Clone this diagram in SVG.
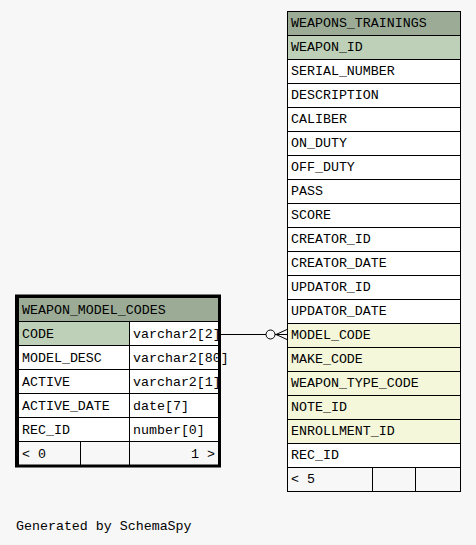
<svg xmlns="http://www.w3.org/2000/svg" width="476" height="545" viewBox="0 0 476 545">
<style>
text{font-family:"Liberation Mono","DejaVu Sans Mono",monospace;font-size:13.3px;fill:#000}
.c{stroke:#000;stroke-width:1}
.h{fill:#9bab96}
.pk{fill:#bed1b8}
.fk{fill:#f4f7da}
.w{fill:#ffffff}
.f{fill:#f7f7f7}
</style>
<rect x="0" y="0" width="476" height="545" fill="#f7f7f7"/>
<g id="connectors" fill="none" stroke="#000" stroke-width="1">
<line x1="219" y1="334.5" x2="266" y2="334.5"/>
<circle cx="270.5" cy="334.5" r="4.5"/>
<line x1="275" y1="334.5" x2="287" y2="334.5"/>
<line x1="276" y1="334.5" x2="287" y2="329.5"/>
<line x1="276" y1="334.5" x2="287" y2="339.5"/>
</g>
<g id="WEAPONS_TRAININGS">
<rect class="c h" x="287.5" y="11.5" width="173" height="24"/>
<text x="291" y="27">WEAPONS_TRAININGS</text>
<rect class="c pk" x="287.5" y="35.5" width="173" height="24"/><text x="291" y="51">WEAPON_ID</text>
<rect class="c w" x="287.5" y="59.5" width="173" height="24"/><text x="291" y="75">SERIAL_NUMBER</text>
<rect class="c w" x="287.5" y="83.5" width="173" height="24"/><text x="291" y="99">DESCRIPTION</text>
<rect class="c w" x="287.5" y="107.5" width="173" height="24"/><text x="291" y="123">CALIBER</text>
<rect class="c w" x="287.5" y="131.5" width="173" height="24"/><text x="291" y="147">ON_DUTY</text>
<rect class="c w" x="287.5" y="155.5" width="173" height="24"/><text x="291" y="171">OFF_DUTY</text>
<rect class="c w" x="287.5" y="179.5" width="173" height="24"/><text x="291" y="195">PASS</text>
<rect class="c w" x="287.5" y="203.5" width="173" height="24"/><text x="291" y="219">SCORE</text>
<rect class="c w" x="287.5" y="227.5" width="173" height="24"/><text x="291" y="243">CREATOR_ID</text>
<rect class="c w" x="287.5" y="251.5" width="173" height="24"/><text x="291" y="267">CREATOR_DATE</text>
<rect class="c w" x="287.5" y="275.5" width="173" height="24"/><text x="291" y="291">UPDATOR_ID</text>
<rect class="c w" x="287.5" y="299.5" width="173" height="24"/><text x="291" y="315">UPDATOR_DATE</text>
<rect class="c fk" x="287.5" y="323.5" width="173" height="24"/><text x="291" y="339">MODEL_CODE</text>
<rect class="c fk" x="287.5" y="347.5" width="173" height="24"/><text x="291" y="363">MAKE_CODE</text>
<rect class="c fk" x="287.5" y="371.5" width="173" height="24"/><text x="291" y="387">WEAPON_TYPE_CODE</text>
<rect class="c fk" x="287.5" y="395.5" width="173" height="24"/><text x="291" y="411">NOTE_ID</text>
<rect class="c fk" x="287.5" y="419.5" width="173" height="24"/><text x="291" y="435">ENROLLMENT_ID</text>
<rect class="c w" x="287.5" y="443.5" width="173" height="24"/><text x="291" y="459">REC_ID</text>
<rect class="c f" x="287.5" y="467.5" width="85" height="24"/>
<rect class="c f" x="372.5" y="467.5" width="43" height="24"/>
<rect class="c f" x="415.5" y="467.5" width="45" height="24"/>
<text x="291" y="483">&lt; 5</text>
</g>
<g id="WEAPON_MODEL_CODES">
<rect class="c h" x="18.5" y="297.5" width="200" height="24"/>
<text x="22" y="314">WEAPON_MODEL_CODES</text>
<rect class="c pk" x="18.5" y="321.5" width="111" height="24"/><rect class="c w" x="129.5" y="321.5" width="89" height="24"/>
<text x="22" y="338">CODE</text><text x="133" y="338">varchar2[2]</text>
<rect class="c w" x="18.5" y="345.5" width="111" height="24"/><rect class="c w" x="129.5" y="345.5" width="89" height="24"/>
<text x="22" y="362">MODEL_DESC</text><text x="133" y="362">varchar2[80]</text>
<rect class="c w" x="18.5" y="369.5" width="111" height="24"/><rect class="c w" x="129.5" y="369.5" width="89" height="24"/>
<text x="22" y="386">ACTIVE</text><text x="133" y="386">varchar2[1]</text>
<rect class="c w" x="18.5" y="393.5" width="111" height="24"/><rect class="c w" x="129.5" y="393.5" width="89" height="24"/>
<text x="22" y="410">ACTIVE_DATE</text><text x="133" y="410">date[7]</text>
<rect class="c w" x="18.5" y="417.5" width="111" height="24"/><rect class="c w" x="129.5" y="417.5" width="89" height="24"/>
<text x="22" y="434">REC_ID</text><text x="133" y="434">number[0]</text>
<rect class="c f" x="18.5" y="441.5" width="62" height="24"/>
<rect class="c f" x="80.5" y="441.5" width="49" height="24"/>
<rect class="c f" x="129.5" y="441.5" width="89" height="24"/>
<text x="22" y="458">&lt; 0</text>
<text x="215" y="458" text-anchor="end">1 &gt;</text>
<rect x="16.5" y="296" width="203" height="170" fill="none" stroke="#000" stroke-width="3"/>
</g>
<text x="16" y="530">Generated by SchemaSpy</text>
</svg>
